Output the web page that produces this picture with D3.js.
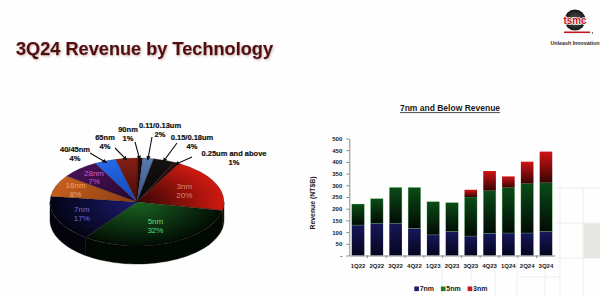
<!DOCTYPE html>
<html>
<head>
<meta charset="utf-8">
<script src="https://cdn.jsdelivr.net/npm/d3@7"></script>
<style>
  html, body { margin: 0; padding: 0; background: #fff; }
  svg { display: block; font-family: "Liberation Sans", Arial, sans-serif; }
</style>
</head>
<body>
<svg id="chart" width="600" height="296"></svg>
<script>
// 3Q24 wafer revenue share by technology (%), listed clockwise starting at 3nm
const nodes  = ["3nm", "5nm", "7nm", "16nm", "28nm", "40/45nm", "65nm", "90nm",
                "0.11/0.13um", "0.15/0.18um", "0.25um and above"];
const shares = [20, 32, 17, 8, 7, 4, 4, 1, 2, 4, 1];

// 7nm-and-below quarterly revenue (NT$B)
const quarters = ["1Q22", "2Q22", "3Q22", "4Q22", "1Q23", "2Q23", "3Q23", "4Q23", "1Q24", "2Q24", "3Q24"];
const rev7nm   = [130, 138, 138, 116,  88, 102,  83,  95,  96,  96, 102];
const rev5nm   = [ 90, 105, 153, 175, 142, 124, 167, 182, 194, 211, 209];
const rev3nm   = [  0,   0,   0,   0,   0,   0,  31,  84,  48,  94, 133];
const revTicks = [0, 50, 100, 150, 200, 250, 300, 350, 400, 450, 500];
const seriesKeys = ["7nm", "5nm", "3nm"];

const svg = d3.select("#chart");
const defs = svg.append("defs");
svg.append("rect").attr("width", 600).attr("height", 296).attr("fill", "#fefefe");

// faint cell borders in the lower-right background
const bg = svg.append("g").attr("stroke", "#ebebeb").attr("stroke-width", 0.8);
[442, 471, 495, 517, 545].forEach(v => bg.append("line").attr("x1", v).attr("x2", v).attr("y1", 262).attr("y2", 296));
[560, 583].forEach(v => bg.append("line").attr("x1", v).attr("x2", v).attr("y1", 188).attr("y2", 296));
[188, 223, 258].forEach(v => bg.append("line").attr("x1", 555).attr("x2", 600).attr("y1", v).attr("y2", v));
bg.append("line").attr("x1", 517).attr("x2", 560).attr("y1", 277).attr("y2", 277);
svg.append("rect").attr("x", 583.5).attr("y", 223.5).attr("width", 17).attr("height", 34.5).attr("fill", "#e6e5e2");

// ---------- header ----------
const glow = defs.append("filter").attr("id", "glow").attr("x", "-5%").attr("y", "-30%").attr("width", "110%").attr("height", "160%");
glow.append("feDropShadow").attr("dx", 1).attr("dy", 1.2).attr("stdDeviation", 0.9)
    .attr("flood-color", "#b88a8a").attr("flood-opacity", 0.55);

svg.append("text")
  .attr("x", 16).attr("y", 55)
  .attr("textLength", 257).attr("lengthAdjust", "spacingAndGlyphs")
  .attr("font-size", 18).attr("font-weight", "bold").attr("fill", "#520a0a")
  .attr("stroke", "#520a0a").attr("stroke-width", 0.25)
  .attr("filter", "url(#glow)")
  .text("3Q24 Revenue by Technology");

// logo
const logo = svg.append("g");
const lg = defs.append("radialGradient").attr("id", "wafer");
lg.append("stop").attr("offset", "0%").attr("stop-color", "#5a5a5a");
lg.append("stop").attr("offset", "100%").attr("stop-color", "#151515");
logo.append("circle").attr("cx", 575).attr("cy", 20).attr("r", 10.5).attr("fill", "url(#wafer)");
logo.append("text").attr("x", 575).attr("y", 24).attr("text-anchor", "middle")
  .attr("font-size", 10.5).attr("font-weight", "bold").attr("fill", "#c8141c")
  .attr("stroke", "#fff").attr("stroke-width", 1.6).attr("paint-order", "stroke")
  .attr("textLength", 23).attr("lengthAdjust", "spacingAndGlyphs").text("tsmc");
logo.append("rect").attr("x", 564).attr("y", 31.5).attr("width", 26).attr("height", 1.6).attr("fill", "#c8141c");
logo.append("circle").attr("cx", 592.5).attr("cy", 33).attr("r", 0.7).attr("fill", "#333");
logo.append("text").attr("x", 575).attr("y", 44.5).attr("text-anchor", "middle")
  .attr("font-size", 4.8).attr("font-weight", "bold").attr("fill", "#2a2a2a")
  .attr("textLength", 49).attr("lengthAdjust", "spacingAndGlyphs").text("Unleash Innovation");

// ---------- 3D pie ----------
const P = { cx: 137, cy: 202, rx: 87, ry: 44, depth: 18 };
const deg = Math.PI / 180;
const pie = d3.pie().sort(null).value(d => d.v).startAngle(29 * deg).endAngle(389 * deg);
const arcs = pie(nodes.map((n, i) => ({ name: n, v: shares[i] })));

const look = {
  "3nm":              { inner: "#380505", outer: "#d01a10", side: "#320404", label: "#d88878" },
  "5nm":              { inner: "#1a6421", outer: "#020c04", side: "#020802", label: "#6cd86a" },
  "7nm":              { inner: "#1b1b70", outer: "#040414", side: "#03030c", label: "#6a6ad6" },
  "16nm":             { inner: "#8a3c14", outer: "#c45e1c", side: "#341204", label: "#f2a466" },
  "28nm":             { inner: "#25072c", outer: "#461154", side: "#18041c", label: "#c85ccc" },
  "40/45nm":          { inner: "#1446b8", outer: "#2468e8", side: "#0a2260" },
  "65nm":             { inner: "#440b07", outer: "#852016", side: "#2c0604" },
  "90nm":             { inner: "#180505", outer: "#280a0a", side: "#0e0303" },
  "0.11/0.13um":      { inner: "#35507e", outer: "#5a7cb2", side: "#1c2a44" },
  "0.15/0.18um":      { inner: "#050505", outer: "#141212", side: "#050505" },
  "0.25um and above": { inner: "#1c0606", outer: "#380c0a", side: "#120404" }
};

arcs.forEach((a, i) => {
  const g = defs.append("radialGradient").attr("id", "slice" + i)
    .attr("gradientUnits", "userSpaceOnUse").attr("cx", 0).attr("cy", 0).attr("r", P.rx);
  g.append("stop").attr("offset", "0%").attr("stop-color", look[a.data.name].inner);
  g.append("stop").attr("offset", "100%").attr("stop-color", look[a.data.name].outer);
});

const rim = (a, dy = 0, k = 1) => [P.cx + k * P.rx * Math.sin(a), P.cy - k * P.ry * Math.cos(a) + dy];
const pieG = svg.append("g");

// side walls on the visible front half
arcs.forEach(a => {
  const s = Math.max(a.startAngle, 90 * deg), e = Math.min(a.endAngle, 270 * deg);
  if (s >= e) return;
  const n = 40, top = [], bot = [];
  for (let j = 0; j <= n; j++) {
    const t = s + (e - s) * j / n;
    top.push(rim(t));
    bot.push(rim(t, P.depth));
  }
  pieG.append("path")
    .attr("d", d3.line()(top.concat(bot.reverse())) + "Z")
    .attr("fill", look[a.data.name].side)
    .attr("stroke", look[a.data.name].side).attr("stroke-width", 0.4);
});

// top face
const face = pieG.append("g").attr("transform", `translate(${P.cx},${P.cy}) scale(1,${P.ry / P.rx})`);
const arcGen = d3.arc().innerRadius(0).outerRadius(P.rx);
face.selectAll("path").data(arcs).join("path")
  .attr("d", arcGen)
  .attr("fill", (d, i) => `url(#slice${i})`)
  .attr("stroke", "#160606").attr("stroke-width", 0.3);

// labels inside the larger slices
const innerRadius = { "3nm": 0.6, "5nm": 0.58, "7nm": 0.69, "16nm": 0.76, "28nm": 0.75 };
arcs.filter(a => innerRadius[a.data.name]).forEach(a => {
  const m = (a.startAngle + a.endAngle) / 2;
  const [lx, ly] = rim(m, 0, innerRadius[a.data.name]);
  const t = svg.append("text").attr("text-anchor", "middle")
    .attr("font-size", 8).attr("fill", look[a.data.name].label);
  t.append("tspan").attr("x", lx).attr("y", ly - 1.5).text(a.data.name);
  t.append("tspan").attr("x", lx).attr("y", ly + 7).text(a.data.v + "%");
});

// callouts for the small slices
const marker = defs.append("marker").attr("id", "arrow")
  .attr("viewBox", "0 0 6 6").attr("refX", 5.5).attr("refY", 3)
  .attr("markerWidth", 4.5).attr("markerHeight", 4.5)
  .attr("markerUnits", "userSpaceOnUse").attr("orient", "auto");
marker.append("path").attr("d", "M0,0L6,3L0,6Z").attr("fill", "#111");

const callout = {
  "40/45nm":          { x: 75,  y: 149, ax: 90,  ay: 153 },
  "65nm":             { x: 105, y: 137, ax: 115, ay: 148 },
  "90nm":             { x: 128, y: 129, ax: 135, ay: 142 },
  "0.11/0.13um":      { x: 160, y: 125, ax: 152, ay: 137 },
  "0.15/0.18um":      { x: 192, y: 137, ax: 177, ay: 143 },
  "0.25um and above": { x: 234, y: 153, ax: 192, ay: 157 }
};
arcs.filter(a => callout[a.data.name]).forEach(a => {
  const c = callout[a.data.name];
  const m = (a.startAngle + a.endAngle) / 2;
  const [tx, ty] = rim(m, 0, 0.96);
  svg.append("line").attr("x1", c.ax).attr("y1", c.ay).attr("x2", tx).attr("y2", ty)
    .attr("stroke", "#111").attr("stroke-width", 1.1).attr("marker-end", "url(#arrow)");
  const t = svg.append("text").attr("text-anchor", "middle")
    .attr("font-size", 7.5).attr("font-weight", "bold").attr("fill", "#111")
    .attr("stroke", "#111").attr("stroke-width", 0.2);
  t.append("tspan").attr("x", c.x).attr("y", c.y + 2.7).text(a.data.name);
  t.append("tspan").attr("x", c.x).attr("y", c.y + 11.7).text(a.data.v + "%");
});

// ---------- stacked bars ----------
const B = { left: 349.3, right: 554.7, top: 138.5, bottom: 255.5 };
const x = d3.scaleBand().domain(quarters).range([B.left, B.right]).paddingInner(0.33).paddingOuter(0.13);
const y = d3.scaleLinear().domain([0, 500]).range([B.bottom, B.top]);

const table = quarters.map((q, i) => ({ q, "7nm": rev7nm[i], "5nm": rev5nm[i], "3nm": rev3nm[i] }));
const stacked = d3.stack().keys(seriesKeys)(table);

const barFill = {
  "7nm": ["#17175a", "#050520"],
  "5nm": ["#0b4c18", "#020a04"],
  "3nm": ["#d01414", "#360404"]
};
seriesKeys.forEach(k => {
  const g = defs.append("linearGradient").attr("id", "bar" + k).attr("x1", 0).attr("y1", 0).attr("x2", 0).attr("y2", 1);
  g.append("stop").attr("offset", "0%").attr("stop-color", barFill[k][0]);
  g.append("stop").attr("offset", "100%").attr("stop-color", barFill[k][1]);
});

const bars = svg.append("g");
stacked.forEach(s => {
  bars.append("g").selectAll("rect").data(s.filter(d => d[1] > d[0])).join("rect")
    .attr("x", d => x(d.data.q))
    .attr("y", d => y(d[1]))
    .attr("width", x.bandwidth())
    .attr("height", d => y(d[0]) - y(d[1]))
    .attr("fill", `url(#bar${s.key})`)
    .attr("stroke", s.key === "5nm" ? "#78e07c" : "none")
    .attr("stroke-opacity", 0.5).attr("stroke-width", 0.6);
});

// y axis
const yAxis = svg.append("g").attr("transform", `translate(${B.left},0)`)
  .call(d3.axisLeft(y).tickValues(revTicks).tickSize(3).tickSizeOuter(0).tickPadding(4)
    .tickFormat(d => d === 0 ? "-" : d));
yAxis.select(".domain").attr("stroke", "#8a8a8a");
yAxis.selectAll(".tick line").attr("stroke", "#8a8a8a");
yAxis.selectAll("text").attr("font-size", 6).attr("font-weight", "bold").attr("fill", "#222")
  .attr("font-family", "'Liberation Sans', Arial, sans-serif");

// x axis baseline with separators between quarters
const xAxis = svg.append("g").attr("transform", `translate(0,${B.bottom})`)
  .call(d3.axisBottom(x).tickSize(0).tickSizeOuter(0).tickPadding(8));
xAxis.select(".domain").attr("stroke", "#8a8a8a");
xAxis.selectAll("text").attr("font-size", 6).attr("font-weight", "bold").attr("fill", "#222")
  .attr("font-family", "'Liberation Sans', Arial, sans-serif");
const gap = x.step() * x.paddingInner() / 2;
xAxis.selectAll(".sep").data(quarters.slice(1)).join("line")
  .attr("x1", d => x(d) - gap).attr("x2", d => x(d) - gap)
  .attr("y1", 0).attr("y2", 2.5).attr("stroke", "#8a8a8a");

// axis title
svg.append("text").attr("transform", "translate(314.5,203) rotate(-90)")
  .attr("text-anchor", "middle").attr("font-size", 7).attr("font-weight", "bold").attr("fill", "#222")
  .attr("textLength", 53).attr("lengthAdjust", "spacingAndGlyphs")
  .text("Revenue (NT$B)");

// chart title, underlined
const ct = svg.append("text").attr("x", 450).attr("y", 111).attr("text-anchor", "middle")
  .attr("font-size", 8.5).attr("font-weight", "bold").attr("fill", "#1a1a1a")
  .text("7nm and Below Revenue");
const ctw = ct.node().getComputedTextLength();
svg.append("line").attr("x1", 450 - ctw / 2).attr("x2", 450 + ctw / 2)
  .attr("y1", 112.6).attr("y2", 112.6).attr("stroke", "#1a1a1a").attr("stroke-width", 0.8);

// legend
const legendColor = { "7nm": "#1c1c6e", "5nm": "#1f7a2c", "3nm": "#c41a1a" };
const legendX = { "7nm": 414.3, "5nm": 440.9, "3nm": 467.6 };
const legend = svg.append("g");
seriesKeys.forEach(k => {
  legend.append("rect").attr("x", legendX[k]).attr("y", 286.5).attr("width", 4.6).attr("height", 4.6)
    .attr("fill", legendColor[k]);
  legend.append("text").attr("x", legendX[k] + 5.4).attr("y", 291.3)
    .attr("font-size", 7).attr("font-weight", "bold").attr("fill", "#1a1a1a").text(k);
});
</script>
</body>
</html>
